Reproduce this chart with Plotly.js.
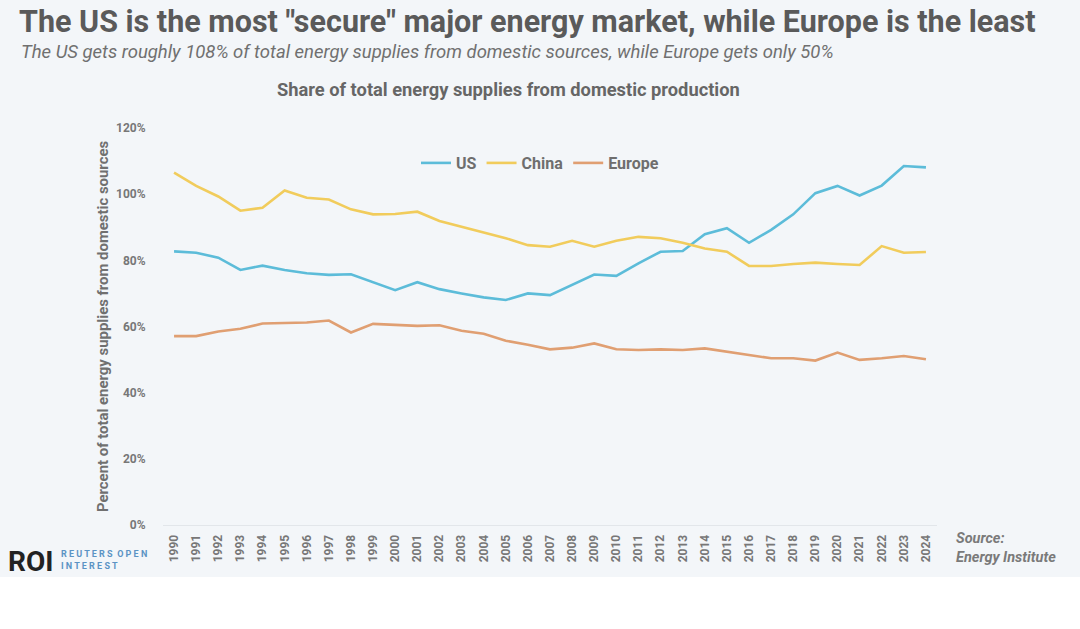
<!DOCTYPE html>
<html>
<head>
<meta charset="utf-8">
<script src="https://cdn.plot.ly/plotly-3.0.1.min.js"></script>
<style>
  html, body { margin: 0; padding: 0; background: #ffffff; }
  #chart { width: 1080px; height: 577px; }
</style>
</head>
<body>
<div id="chart"></div>
<script>
const years = ["1990","1991","1992","1993","1994","1995","1996","1997","1998","1999",
  "2000","2001","2002","2003","2004","2005","2006","2007","2008","2009",
  "2010","2011","2012","2013","2014","2015","2016","2017","2018","2019",
  "2020","2021","2022","2023","2024"];

const usShare = [82.7, 82.3, 80.8, 77.1, 78.4, 77.1, 76.1, 75.6, 75.8, 73.4,
  71.0, 73.4, 71.3, 70.0, 68.8, 68.0, 70.0, 69.5, 72.6, 75.7,
  75.3, 79.1, 82.6, 82.8, 87.9, 89.7, 85.3, 89.2, 93.9, 100.3,
  102.5, 99.6, 102.6, 108.5, 108.1];

const chinaShare = [106.5, 102.5, 99.3, 95.0, 95.9, 101.1, 98.9, 98.4, 95.4, 93.9,
  94.0, 94.7, 91.9, 90.2, 88.6, 86.7, 84.6, 84.1, 85.9, 84.1,
  85.9, 87.1, 86.7, 85.3, 83.6, 82.6, 78.3, 78.3, 78.9, 79.3,
  78.9, 78.6, 84.3, 82.3, 82.5];

const europeShare = [57.1, 57.1, 58.5, 59.3, 60.9, 61.0, 61.2, 61.8, 58.2, 60.8,
  60.6, 60.2, 60.4, 58.7, 57.8, 55.7, 54.5, 53.1, 53.6, 54.9,
  53.1, 52.9, 53.1, 52.9, 53.4, 52.4, 51.6, 50.4, 50.4, 49.7,
  52.1, 49.9, 50.4, 51.1, 50.1];

const yTicks = [0, 20, 40, 60, 80, 100, 120];
const yTickLabels = ["0%", "20%", "40%", "60%", "80%", "100%", "120%"];

const W = 1080, Hh = 577;
const M = { l: 163, r: 143, t: 128, b: 52 };
const PW = W - M.l - M.r, PH = Hh - M.t - M.b;
const px = x => (x - M.l) / PW;
const py = y => (Hh - M.b - y) / PH;

const gray = "#6e6e6e";
const font = "Roboto, 'Open Sans', sans-serif";

const traces = [
  { name: "US", x: years, y: usShare, type: "scatter", mode: "lines",
    line: { color: "#5cbcd9", width: 2.6 } },
  { name: "China", x: years, y: chinaShare, type: "scatter", mode: "lines",
    line: { color: "#f1cc5c", width: 2.6 } },
  { name: "Europe", x: years, y: europeShare, type: "scatter", mode: "lines",
    line: { color: "#e09f72", width: 2.6 } }
];

const layout = {
  width: W, height: Hh,
  margin: M,
  paper_bgcolor: "#f3f6f9",
  plot_bgcolor: "#f3f6f9",
  font: { family: font, color: gray },
  showlegend: true,
  title: {
    text: "<b>The US is the most \"secure\" major energy market, while Europe is the least</b>",
    font: { family: font, size: 30.5, color: "#5a5a5a" },
    x: 19 / W, xanchor: "left", xref: "container",
    y: 1 - 21 / Hh, yanchor: "middle", yref: "container"
  },
  legend: {
    orientation: "h", x: px(540), xanchor: "center", y: py(163), yanchor: "middle",
    font: { family: font, size: 16, color: gray, weight: 700 },
    bgcolor: "rgba(0,0,0,0)", itemwidth: 30, tracegroupgap: 0
  },
  xaxis: {
    type: "category", range: [-0.5, years.length - 0.5],
    tickangle: -90, tickfont: { family: font, size: 12, color: "#777", weight: 700 },
    showgrid: false, zeroline: false,
    showline: true, linecolor: "#e2e6ea", linewidth: 1,
    ticks: "outside", ticklen: 4, tickcolor: "rgba(0,0,0,0)"
  },
  yaxis: {
    range: [0, 120], tickvals: yTicks, ticktext: yTickLabels,
    tickfont: { family: font, size: 12, color: "#777", weight: 700 },
    showgrid: false, zeroline: false, showline: false,
    ticks: "outside", ticklen: 14, tickcolor: "rgba(0,0,0,0)"
  },
  annotations: [
    { xref: "paper", yref: "paper", x: px(19), y: py(52), xanchor: "left", yanchor: "middle",
      text: "<i>The US gets roughly 108% of total energy supplies from domestic sources, while Europe gets only 50%</i>",
      showarrow: false, font: { family: font, size: 18.5, color: "#707070" } },
    { xref: "paper", yref: "paper", x: px(508), y: py(89), xanchor: "center", yanchor: "middle",
      text: "<b>Share of total energy supplies from domestic production</b>",
      showarrow: false, font: { family: font, size: 18.3, color: "#666" } },
    { xref: "paper", yref: "paper", x: px(103), y: py(327), xanchor: "center", yanchor: "middle",
      text: "<b>Percent of total energy supplies from domestic sources</b>", textangle: -90,
      showarrow: false, font: { family: font, size: 14.9, color: "#707070" } },
    { xref: "paper", yref: "paper", x: px(6), y: py(561), xanchor: "left", yanchor: "middle",
      text: "<b>ROI</b>",
      showarrow: false, font: { family: font, size: 28, color: "#222" } },
    { xref: "paper", yref: "paper", x: px(59), y: py(560), xanchor: "left", yanchor: "middle",
      text: "<b>R E U T E R S  O P E N<br>I N T E R E S T</b>", align: "left",
      showarrow: false, font: { family: font, size: 9, color: "#5b93c4" } },
    { xref: "paper", yref: "paper", x: px(954), y: py(548), xanchor: "left", yanchor: "middle",
      text: "<b><i>Source:<br>Energy Institute</i></b>", align: "left",
      showarrow: false, font: { family: font, size: 14.5, color: "#7a7a7a" } }
  ]
};

Plotly.newPlot("chart", traces, layout, { displayModeBar: false, staticPlot: true });
</script>
</body>
</html>
